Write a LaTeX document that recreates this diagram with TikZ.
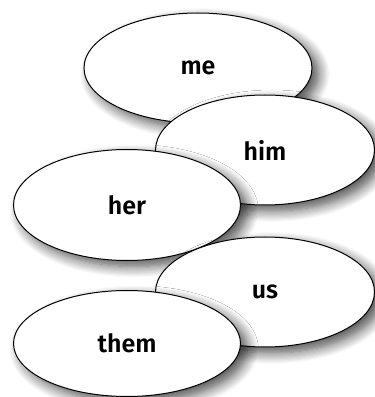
\documentclass[tikz,border=0pt]{standalone}
\usepackage{fontspec}
\setmainfont{Fira Sans SemiBold}
\usetikzlibrary{shapes.geometric,shadows.blur}
\begin{document}
\begin{tikzpicture}[x=1pt,y=1pt,
  oval/.style={ellipse,draw=black,line width=1pt,fill=white,inner sep=0pt,
    font=\fontsize{25}{28}\selectfont,
    blur shadow={shadow xshift=7pt,shadow yshift=-6pt,shadow blur radius=11pt,shadow blur steps=10,shadow opacity=70}}]
\useasboundingbox (0,0) rectangle (375,397);
\node[oval,minimum width=228pt,minimum height=110pt] (me) at (198,329) {me};
\node[oval,minimum width=219pt,minimum height=110pt] (him) at (265,247) {him};
\node[oval,minimum width=227pt,minimum height=111pt] (her) at (127,192) {her};
\node[oval,minimum width=219pt,minimum height=110pt] (us) at (265,105) {us};
\node[oval,minimum width=227pt,minimum height=106pt] (them) at (127,53.5) {them};
\end{tikzpicture}
\end{document}
